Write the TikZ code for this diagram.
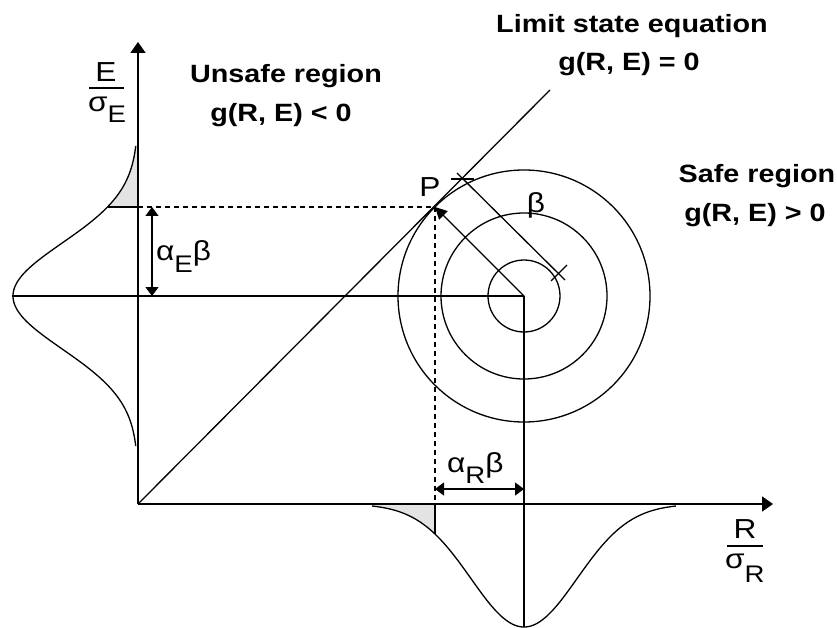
\documentclass[tikz,border=0pt]{standalone}
\usepackage{fontspec}
\setmainfont{Liberation Sans}[FakeStretch=1.15]
\usetikzlibrary{arrows.meta}
\begin{document}
\begin{tikzpicture}[x=1pt,y=-1pt,
  lbl/.style={font=\fontsize{25}{30}\selectfont\bfseries, inner sep=0pt, anchor=base},
  glbl/.style={font=\fontsize{27.5}{30}\selectfont, inner sep=0pt, anchor=base west},
  axisline/.style={line width=1.9pt, -{Triangle[length=11pt,width=15pt]}},
  dimline/.style={line width=1.4pt, {Triangle[length=9pt,width=13pt]}-{Triangle[length=9pt,width=13pt]}},
  curve/.style={line width=1.3pt},
  dashline/.style={line width=1.5pt, dash pattern=on 5pt off 4pt},
  shade/.style={fill=gray!22}
]
\useasboundingbox (0,0) rectangle (837,628);
\fill[white] (0,0) rectangle (837,628);

% key points
\coordinate (O) at (138,504);
\coordinate (Ytip) at (138,42);
\coordinate (Xtip) at (773,504);
\coordinate (C) at (524,296);
\coordinate (P) at (435,207);
\coordinate (L) at (550,90);
\coordinate (EL) at (12,296);
\coordinate (EB) at (524,627);
\coordinate (Pe) at (138,207);
\coordinate (Pr) at (435,504);
\coordinate (Ge) at (107.5,207);
\coordinate (Gr) at (435,534);

% shaded tails
\fill[shade] (138,146) -- plot[domain=146:207,samples=30] ({138-125*exp(-0.5*((\x-296)/53)^2)},\x) -- (Pe) -- cycle;
\fill[shade] (372,504) -- plot[domain=372:435,samples=30] (\x,{504+123*exp(-0.5*((\x-524)/53)^2)}) -- (Pr) -- cycle;

% distributions
\draw[curve] plot[domain=146:446,samples=120] ({138-125*exp(-0.5*((\x-296)/53)^2)},\x);
\draw[curve] plot[domain=372:676,samples=120] (\x,{504+123*exp(-0.5*((\x-524)/53)^2)});
\draw[curve] (Ge) -- (Pe);
\draw[curve] (Pr) -- (Gr);

% axes
\draw[axisline] (O) -- (Ytip);
\draw[axisline] (O) -- (Xtip);

% limit state line
\draw[curve] (O) -- (L);

% mean lines
\draw[curve] (EL) -- (C);
\draw[curve] (C) -- (EB);

% circles
\draw[curve] (C) circle[radius=36];
\draw[curve] (C) circle[radius=83];
\draw[curve] (C) circle[radius=126];

% design point projections
\draw[dashline] (Pe) -- (P) -- (Pr);

% beta arrow
\draw[line width=1.4pt, -{Triangle[length=12pt,width=12pt]}] (C) -- (P);

% dimension arrows
\coordinate (Ea) at (152,207);
\coordinate (Eb) at (152,296);
\draw[dimline] (Ea) -- (Eb);
\coordinate (Ra) at (435,489);
\coordinate (Rb) at (524,489);
\draw[dimline] (Ra) -- (Rb);

% beta dimension line
\coordinate (Ba) at (457,173);
\coordinate (Bb) at (565,280);
\draw[curve] (Ba) -- (Bb);
\coordinate (Ta1) at (451,179);
\coordinate (Ta2) at (474,179);
\draw[curve] (Ta1) -- (Ta2);
\coordinate (Tb1) at (551,281);
\coordinate (Tb2) at (567,265);
\draw[curve] (Tb1) -- (Tb2);

% region labels
\node[lbl] (unsafe) at (286,83) {Unsafe region};
\node[lbl] (unsafeg) at (281,122) {g(R, E) < 0};
\node[lbl] (limit) at (632,33) {Limit state equation};
\node[lbl] (limitg) at (629,71) {g(R, E) = 0};
\node[lbl] (safe) at (757,183) {Safe region};
\node[lbl] (safeg) at (755,222) {g(R, E) > 0};

% axis labels
\node[glbl, anchor=base] (Enum) at (106,82) {E};
\coordinate (Eb1) at (89,88);
\coordinate (Eb2) at (124,88);
\draw[line width=1.3pt] (Eb1) -- (Eb2);
\node[glbl] (Eden) at (88,112) {σ\raisebox{-11pt}{\fontsize{24}{24}\selectfont E}};

\node[glbl, anchor=base] (Rnum) at (745,538) {R};
\coordinate (Rb1) at (727,546);
\coordinate (Rb2) at (763,546);
\draw[line width=1.3pt] (Rb1) -- (Rb2);
\node[glbl] (Rden) at (725,568) {σ\raisebox{-14pt}{\fontsize{24}{24}\selectfont R}};

% other labels
\node[glbl] (aE) at (156,260) {α\raisebox{-12pt}{\fontsize{24}{24}\selectfont E}β};
\node[glbl] (aR) at (447,472) {α\raisebox{-11pt}{\fontsize{24}{24}\selectfont R}β};
\node[glbl, anchor=base] (beta) at (536,213) {β};
\node[glbl, anchor=base] (Plab) at (430,197) {P};
\end{tikzpicture}
\end{document}
